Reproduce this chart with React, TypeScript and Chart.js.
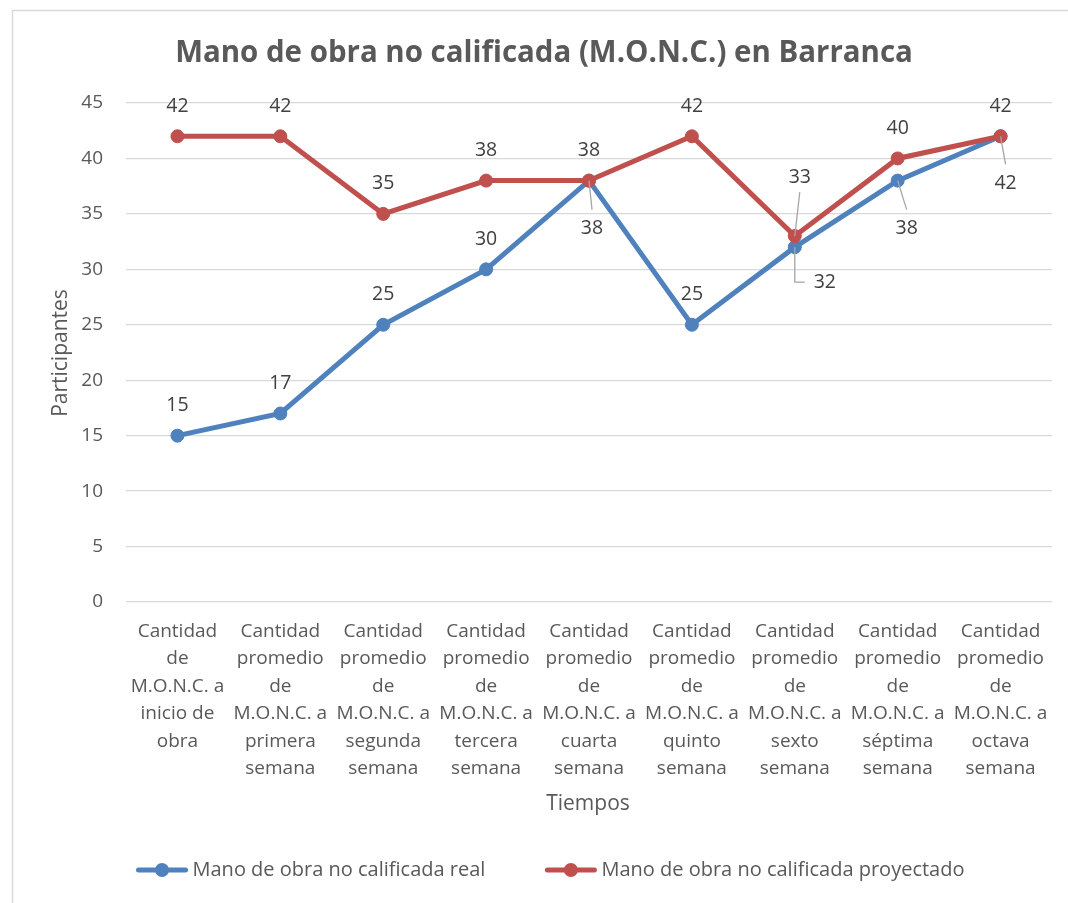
import React, { useEffect, useRef } from "react";
import { Chart, registerables } from "chart.js";

Chart.register(...registerables);

// ---------- data ----------
const chartTitle = "Mano de obra no calificada (M.O.N.C.) en Barranca";
const xAxisTitle = "Tiempos";
const yAxisTitle = "Participantes";

const categories: string[][] = [
  ["Cantidad", "de", "M.O.N.C. a", "inicio de", "obra"],
  ["Cantidad", "promedio", "de", "M.O.N.C. a", "primera", "semana"],
  ["Cantidad", "promedio", "de", "M.O.N.C. a", "segunda", "semana"],
  ["Cantidad", "promedio", "de", "M.O.N.C. a", "tercera", "semana"],
  ["Cantidad", "promedio", "de", "M.O.N.C. a", "cuarta", "semana"],
  ["Cantidad", "promedio", "de", "M.O.N.C. a", "quinto", "semana"],
  ["Cantidad", "promedio", "de", "M.O.N.C. a", "sexto", "semana"],
  ["Cantidad", "promedio", "de", "M.O.N.C. a", "séptima", "semana"],
  ["Cantidad", "promedio", "de", "M.O.N.C. a", "octava", "semana"],
];

const realName = "Mano de obra no calificada real";
const realValues = [15, 17, 25, 30, 38, 25, 32, 38, 42];

const projectedName = "Mano de obra no calificada proyectado";
const projectedValues = [42, 42, 35, 38, 38, 42, 33, 40, 42];

const yMin = 0;
const yMax = 45;
const yStep = 5;

// label placement (offset from point, leader style)
const realLabelOffsets: [number, number][] = [
  [0, -30], [0, -30], [0, -30], [0, -30], [3, 48], [0, -30], [30, 35], [9, 48], [5, 47],
];
const realLeaders = ["", "", "", "", "line", "", "elbow", "line", "line"];
const projectedLabelOffsets: [number, number][] = [
  [0, -30], [0, -30], [0, -30], [0, -30], [0, -30], [0, -30], [5, -59], [0, -30], [0, -30],
];
const projectedLeaders = ["", "", "", "", "", "", "line", "", ""];

// ---------- styles ----------
const BLUE = "#4F81BD";
const RED = "#C0504D";
const GRID = "#D9D9D9";
const TEXT = "#595959";
const LABEL = "#404040";
const LEADER = "#A6A6A6";
const FONT = "'Open Sans', 'Noto Sans', sans-serif";

const decorPlugin = {
  id: "decor",
  beforeDraw(chart: any) {
    const ctx = chart.ctx;
    ctx.save();
    ctx.fillStyle = "#ffffff";
    ctx.fillRect(0, 0, chart.width, chart.height);
    ctx.strokeStyle = GRID;
    ctx.lineWidth = 1.5;
    ctx.beginPath();
    ctx.moveTo(12.5, chart.height + 2);
    ctx.lineTo(12.5, 10.5);
    ctx.lineTo(chart.width + 2, 10.5);
    ctx.stroke();
    ctx.restore();
  },
  afterDatasetsDraw(chart: any) {
    const ctx = chart.ctx;
    const sets = [
      { idx: 0, values: realValues, offs: realLabelOffsets, leaders: realLeaders },
      { idx: 1, values: projectedValues, offs: projectedLabelOffsets, leaders: projectedLeaders },
    ];
    ctx.save();
    for (const s of sets) {
      const meta = chart.getDatasetMeta(s.idx);
      meta.data.forEach((pt: any, i: number) => {
        const [dx, dy] = s.offs[i];
        const lx = pt.x + dx;
        const ly = pt.y + dy;
        const kind = s.leaders[i];
        if (kind) {
          ctx.strokeStyle = LEADER;
          ctx.lineWidth = 1.3;
          ctx.beginPath();
          if (kind === "elbow") {
            ctx.moveTo(pt.x, pt.y);
            ctx.lineTo(pt.x, ly);
            ctx.lineTo(lx - 20, ly);
          } else {
            ctx.moveTo(pt.x, pt.y);
            ctx.lineTo(lx, dy > 0 ? ly - 19 : ly + 15);
          }
          ctx.stroke();
        }
        ctx.fillStyle = LABEL;
        ctx.font = `19.5px ${FONT}`;
        ctx.textAlign = "center";
        ctx.textBaseline = "middle";
        ctx.fillText(String(s.values[i]), lx, ly);
      });
    }
    ctx.restore();
  },
  afterDraw(chart: any) {
    const ctx = chart.ctx;
    ctx.save();
    // title
    ctx.fillStyle = TEXT;
    ctx.font = `bold 30px ${FONT}`;
    const w30 = ctx.measureText(chartTitle).width;
    const tSize = (30 * 738) / w30;
    ctx.font = `bold ${tSize}px ${FONT}`;
    ctx.textAlign = "center";
    ctx.textBaseline = "alphabetic";
    ctx.fillText(chartTitle, 544, 62);

    // axis titles
    ctx.font = `21px ${FONT}`;
    ctx.textBaseline = "middle";
    ctx.fillText(xAxisTitle, 588, 804);
    ctx.save();
    ctx.translate(61, 353);
    ctx.rotate(-Math.PI / 2);
    ctx.fillText(yAxisTitle, 0, 0);
    ctx.restore();

    // legend
    ctx.font = `20px ${FONT}`;
    const items = [
      { name: realName, color: BLUE },
      { name: projectedName, color: RED },
    ];
    const sym = 53;
    const gapText = 4;
    const gapItems = 59;
    const widths = items.map((it) => sym + gapText + ctx.measureText(it.name).width);
    const total = widths[0] + widths[1] + gapItems;
    let x = 550 - total / 2;
    const y = 870;
    items.forEach((it, k) => {
      ctx.strokeStyle = it.color;
      ctx.lineWidth = 5;
      ctx.lineCap = "round";
      ctx.beginPath();
      ctx.moveTo(x + 3, y);
      ctx.lineTo(x + sym - 3, y);
      ctx.stroke();
      ctx.fillStyle = it.color;
      ctx.beginPath();
      ctx.arc(x + sym / 2, y, 7, 0, Math.PI * 2);
      ctx.fill();
      ctx.fillStyle = TEXT;
      ctx.textAlign = "left";
      ctx.textBaseline = "middle";
      ctx.fillText(it.name, x + sym + gapText, y);
      x += widths[k] + gapItems;
    });
    ctx.restore();
  },
};

export default function App() {
  const ref = useRef<HTMLCanvasElement | null>(null);
  useEffect(() => {
    if (!ref.current) return;
    const chart = new Chart(ref.current, {
      type: "line",
      data: {
        labels: categories as any,
        datasets: [
          {
            label: realName,
            data: realValues,
            borderColor: BLUE,
            backgroundColor: BLUE,
            borderWidth: 5,
            pointRadius: 6.5,
            pointBackgroundColor: BLUE,
            pointBorderColor: BLUE,
            pointBorderWidth: 1,
            tension: 0,
            order: 1,
          },
          {
            label: projectedName,
            data: projectedValues,
            borderColor: RED,
            backgroundColor: RED,
            borderWidth: 5,
            pointRadius: 6.5,
            pointBackgroundColor: RED,
            pointBorderColor: RED,
            pointBorderWidth: 1,
            tension: 0,
            order: 0,
          },
        ],
      },
      options: {
        responsive: false,
        animation: false,
        devicePixelRatio: 1,
        layout: { padding: { left: 40, right: 16, top: 103, bottom: 101 } },
        plugins: {
          legend: { display: false },
          title: { display: false },
          tooltip: { enabled: false },
        },
        scales: {
          x: {
            offset: true,
            grid: { display: false, drawTicks: false },
            border: { display: false },
            ticks: {
              autoSkip: false,
              maxRotation: 0,
              minRotation: 0,
              padding: 15.5,
              color: TEXT,
              font: { family: FONT, size: 19, lineHeight: 27.5 / 19 },
            },
            afterFit: (s: any) => {
              s.height = 200;
            },
          },
          y: {
            min: yMin,
            max: yMax,
            ticks: {
              stepSize: yStep,
              padding: 23,
              color: TEXT,
              font: { family: FONT, size: 19 },
            },
            grid: { color: GRID, lineWidth: 1.3, drawTicks: false },
            border: { display: false },
            afterFit: (s: any) => {
              s.width = 86;
            },
          },
        },
      },
      plugins: [decorPlugin],
    });
    return () => chart.destroy();
  }, []);
  return (
    <div style={{ position: "fixed", left: 0, top: 0, width: 1068, height: 903 }}>
      <canvas ref={ref} width={1068} height={903} style={{ display: "block" }} />
    </div>
  );
}
